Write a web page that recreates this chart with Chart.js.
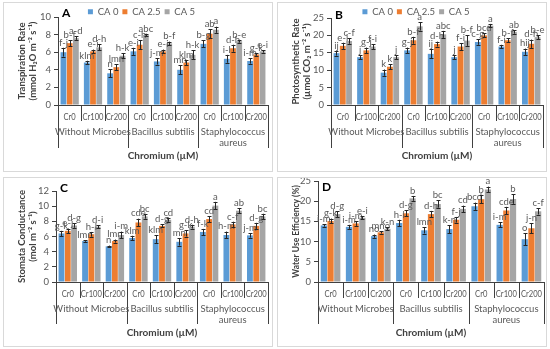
<!DOCTYPE html>
<html>
<head>
<meta charset="utf-8">
<script src="https://cdn.jsdelivr.net/npm/chart.js@4.4.0/dist/chart.umd.min.js"></script>
<style>
  body { margin: 0; background: #fff; width: 550px; height: 349px; position: relative; overflow: hidden; }
  .panel { position: absolute; width: 270px; height: 170px; border: 1px solid #d9d9d9; box-sizing: border-box; background: #fff; }
  canvas { position: absolute; left: 0; top: 0; }
</style>
</head>
<body>
<div class="panel" style="left:3px;top:2px"><canvas id="chartA" width="268" height="168"></canvas></div>
<div class="panel" style="left:277px;top:2px"><canvas id="chartB" width="268" height="168"></canvas></div>
<div class="panel" style="left:3px;top:177px"><canvas id="chartC" width="268" height="168"></canvas></div>
<div class="panel" style="left:277px;top:177px"><canvas id="chartD" width="268" height="168"></canvas></div>
<script>
const categories = ['Cr0', 'Cr100', 'Cr200', 'Cr0', 'Cr100', 'Cr200', 'Cr0', 'Cr100', 'Cr200'];
const groups = [['Without Microbes'], ['Bacillus subtilis'], ['Staphylococcus', 'aureus']];
const seriesNames = ['CA 0', 'CA 2.5', 'CA 5'];
const colors = ['#5B9BD5', '#ED7D31', '#A5A5A5'];

// A - transpiration rate
const trCA0 = [6.0, 4.83, 3.6, 6.1, 4.95, 4.0, 6.95, 5.25, 5.0];
const trCA25 = [7.03, 6.1, 4.3, 6.85, 6.1, 4.83, 8.1, 6.45, 5.75];
const trCA5 = [7.6, 6.55, 5.6, 7.95, 7.0, 5.7, 8.55, 7.25, 6.1];
const trErr0 = [0.5, 0.2, 0.45, 0.4, 0.35, 0.5, 0.4, 0.45, 0.3];
const trErr25 = [0.35, 0.2, 0.35, 0.5, 0.2, 0.3, 0.5, 0.4, 0.15];
const trErr5 = [0.2, 0.35, 0.3, 0.15, 0.2, 0.5, 0.35, 0.15, 0.15];
const trLet0 = ['f-j', 'klm', 'n', 'e-i', 'j-m', 'mn', 'b-g', 'i-l', 'i-m'];
const trLet25 = ['b-f', 'e-i', 'lmn', 'c-h', 'e-i', 'klm', 'ab', 'd-h', 'g-k'];
const trLet5 = ['a-d', 'd-h', 'h-k', 'abc', 'b-f', 'h-k', 'a', 'b-e', 'e-i'];

// B - photosynthetic rate
const psCA0 = [14.9, 13.75, 9.3, 15.7, 14.7, 13.75, 18.1, 16.8, 15.3];
const psCA25 = [17.0, 15.7, 11.0, 18.6, 17.5, 16.8, 20.0, 18.6, 17.6];
const psCA5 = [18.4, 16.8, 13.75, 22.6, 20.3, 18.5, 22.8, 21.0, 19.5];
const psErr0 = [0.7, 0.6, 0.9, 0.8, 1.3, 0.6, 0.8, 0.5, 0.9];
const psErr25 = [0.9, 0.8, 0.7, 1.0, 0.7, 1.0, 0.6, 0.6, 1.2];
const psErr5 = [0.8, 0.7, 0.6, 1.2, 1.0, 1.5, 0.5, 0.5, 0.6];
const psLet0 = ['ij', 'j', 'k', 'g-j', 'ij', 'j', 'c-g', 'f-i', 'hij'];
const psLet25 = ['e-i', 'g-j', 'k', 'b-f', 'd-h', 'f-i', 'bcd', 'b-f', 'd-h'];
const psLet5 = ['c-f', 'f-i', 'j', 'a', 'abc', 'b-f', 'a', 'ab', 'b-e'];

// C - stomata conductance
const scCA0 = [6.4, 5.4, 4.7, 5.8, 5.65, 5.3, 6.6, 6.2, 6.15];
const scCA25 = [6.75, 6.3, 5.4, 7.85, 7.4, 6.4, 8.3, 7.6, 7.4];
const scCA5 = [7.45, 7.3, 6.2, 8.65, 8.2, 7.3, 10.07, 9.4, 8.65];
const scErr0 = [0.35, 0.1, 0.1, 0.3, 0.5, 0.5, 0.4, 0.45, 0.3];
const scErr25 = [0.3, 0.3, 0.2, 0.5, 0.2, 0.4, 0.4, 0.35, 0.4];
const scErr5 = [0.3, 0.2, 0.45, 0.3, 0.25, 0.25, 0.5, 0.35, 0.35];
const scLet0 = ['g-k', 'lmn', 'n', 'klm', 'klm', 'mn', 'f-k', 'h-m', 'j-m'];
const scLet25 = ['e-j', 'h-l', 'lmn', 'cde', 'd-g', 'g-k', 'cd', 'c-f', 'd-g'];
const scLet5 = ['d-g', 'd-i', 'i-m', 'bc', 'cd', 'd-h', 'a', 'ab', 'bc'];

// D - water use efficiency
const weCA0 = [14.0, 13.65, 11.35, 14.6, 12.8, 13.1, 18.75, 14.15, 10.6];
const weCA25 = [15.1, 14.5, 12.3, 17.0, 16.8, 15.4, 20.5, 17.7, 13.3];
const weCA5 = [16.8, 15.9, 13.15, 20.7, 19.3, 18.1, 22.9, 20.55, 17.5];
const weErr0 = [0.3, 0.5, 0.4, 0.8, 0.8, 1.0, 0.9, 0.6, 1.5];
const weErr25 = [0.6, 0.6, 0.3, 0.7, 0.8, 0.7, 1.0, 0.9, 1.2];
const weErr5 = [0.7, 0.4, 0.4, 0.6, 0.9, 0.8, 0.7, 1.2, 0.8];
const weLet0 = ['i-m', 'i-m', 'no', 'h-l', 'lmn', 'k-n', 'bcd', 'i-m', 'o'];
const weLet25 = ['g-k', 'i-m', 'mno', 'd-g', 'd-h', 'f-j', 'b', 'cde', 'j-n'];
const weLet5 = ['d-g', 'e-i', 'k-n', 'b', 'bc', 'cd', 'a', 'b', 'c-f'];

const FONT = "Lato, 'Liberation Sans', sans-serif";
Chart.defaults.font.family = FONT;

const legendFit = {
  id: 'legendFit',
  beforeInit(chart, args, opts) {
    if (!chart.legend) return;
    const fit = chart.legend.fit;
    chart.legend.fit = function () {
      fit.bind(chart.legend)();
      this.height = opts.height || this.height;
    };
  }
};

const decor = {
  id: 'decor',
  afterDatasetsDraw(chart) {
    const { ctx, scales: { y } } = chart;
    ctx.save();
    chart.data.datasets.forEach((ds, di) => {
      chart.getDatasetMeta(di).data.forEach((bar, i) => {
        const v = ds.data[i], e = ds.err[i];
        const yt = y.getPixelForValue(v + e), yb = y.getPixelForValue(v - e);
        const bx = Math.round(bar.x) + 0.5;
        ctx.strokeStyle = '#262626';
        ctx.lineWidth = 1;
        ctx.beginPath();
        ctx.moveTo(bx, yt); ctx.lineTo(bx, yb);
        ctx.moveTo(bx - 2, Math.round(yt) + 0.5); ctx.lineTo(bx + 2, Math.round(yt) + 0.5);
        ctx.moveTo(bx - 2, Math.round(yb) + 0.5); ctx.lineTo(bx + 2, Math.round(yb) + 0.5);
        ctx.stroke();
        ctx.fillStyle = '#595959';
        ctx.font = '9.5px ' + FONT;
        ctx.textAlign = 'center';
        ctx.textBaseline = 'bottom';
        ctx.fillText(ds.letters[i], bar.x, yt - 0.5);
      });
    });
    ctx.restore();
  },
  afterDraw(chart, args, opts) {
    const { ctx, chartArea, scales: { x } } = chart;
    const step = x.getPixelForValue(1) - x.getPixelForValue(0);
    const b = chartArea.bottom;
    ctx.save();
    ctx.strokeStyle = '#404040';
    ctx.lineWidth = 1;
    ctx.beginPath();
    for (let i = 0; i <= categories.length; i++) {
      const px = Math.round(x.getPixelForValue(0) - step / 2 + i * step) + 0.5;
      const len = i % 3 === 0 ? opts.longLen : 16;
      ctx.moveTo(px, b); ctx.lineTo(px, b + len);
    }
    ctx.stroke();
    ctx.fillStyle = '#595959';
    ctx.font = '9.5px ' + FONT;
    ctx.textAlign = 'center';
    ctx.textBaseline = 'middle';
    // category labels, squeezed a little to fit like the narrow original font
    categories.forEach((c, i) => {
      ctx.save();
      ctx.translate(x.getPixelForValue(i), b + 12);
      ctx.scale(0.8, 1);
      ctx.fillText(c, 0, 0);
      ctx.restore();
    });
    groups.forEach((g, gi) => {
      const cx = x.getPixelForValue(gi * 3 + 1);
      g.forEach((line, li) => ctx.fillText(line, cx, b + 27 + li * 11));
    });
    ctx.fillStyle = '#000';
    ctx.font = 'bold 12px ' + FONT;
    ctx.textAlign = 'left';
    ctx.fillText(opts.letter, chartArea.left + 4, chartArea.top + opts.letterDy);
    ctx.restore();
  }
};

function makePanel(id, p) {
  const vals = [p.s0, p.s1, p.s2];
  const errs = [p.e0, p.e1, p.e2];
  const lets = [p.l0, p.l1, p.l2];
  new Chart(document.getElementById(id), {
    type: 'bar',
    data: {
      labels: categories,
      datasets: seriesNames.map((n, k) => ({
        label: n,
        data: vals[k],
        err: errs[k],
        letters: lets[k],
        backgroundColor: colors[k],
        borderWidth: 0,
        categoryPercentage: 0.8,
        barPercentage: 0.93
      }))
    },
    options: {
      responsive: false,
      animation: false,
      devicePixelRatio: 1,
      layout: { padding: { left: p.padL, right: p.padR, top: p.padT, bottom: 0 } },
      plugins: {
        legend: {
          display: p.legend,
          position: 'top',
          labels: { boxWidth: 5, boxHeight: 5, padding: 4, color: '#595959', font: { size: 9.5 } }
        },
        tooltip: { enabled: false },
        legendFit: { height: p.legendH },
        decor: { letter: p.letter, longLen: p.longLen, letterDy: p.letterDy }
      },
      scales: {
        x: {
          ticks: { display: false },
          grid: { display: false },
          border: { display: true, color: '#404040' },
          title: {
            display: true, text: 'Chromium (µM)', color: '#404040',
            font: { size: 10, weight: 'bold' }, padding: { top: 0, bottom: p.xTitlePad }
          },
          afterFit(s) { s.height = p.xh; s.paddingLeft = 0; s.paddingRight = 0; }
        },
        y: {
          min: 0, max: p.max,
          ticks: { stepSize: p.step, color: '#595959', font: { size: 9.5 }, padding: 3 },
          grid: { drawOnChartArea: false, drawTicks: true, tickLength: 4, color: '#404040' },
          border: { color: '#404040' },
          title: {
            display: true, text: p.yTitle, color: '#404040',
            font: { size: p.yTitleSize, weight: 'bold' }, padding: { top: p.yTitlePad, bottom: 0 }
          },
          afterFit(s) { s.width = p.yw; s.paddingTop = 0; s.paddingBottom = 0; }
        }
      }
    },
    plugins: [legendFit, decor]
  });
}

makePanel('chartA', {
  letter: 'A', s0: trCA0, s1: trCA25, s2: trCA5, e0: trErr0, e1: trErr25, e2: trErr5,
  l0: trLet0, l1: trLet25, l2: trLet5, max: 10, step: 2,
  yTitle: ['Transpiration Rate', '(mmol H₂O m⁻² s⁻¹)'], yTitleSize: 9.5,
  legend: true, legendH: 14, padL: 11, padR: 4, padT: 0, yw: 43, xh: 66,
  yTitlePad: 1, xTitlePad: 9, longLen: 43, letterDy: -4
});
makePanel('chartB', {
  letter: 'B', s0: psCA0, s1: psCA25, s2: psCA5, e0: psErr0, e1: psErr25, e2: psErr5,
  l0: psLet0, l1: psLet25, l2: psLet5, max: 25, step: 5,
  yTitle: ['Photosynthetic Rate', '(µmol CO₂ m⁻² s⁻¹)'], yTitleSize: 9.5,
  legend: true, legendH: 15, padL: 11, padR: 3, padT: 0, yw: 42, xh: 66,
  yTitlePad: 1, xTitlePad: 9, longLen: 43, letterDy: -3
});
makePanel('chartC', {
  letter: 'C', s0: scCA0, s1: scCA25, s2: scCA5, e0: scErr0, e1: scErr25, e2: scErr5,
  l0: scLet0, l1: scLet25, l2: scLet5, max: 12, step: 2,
  yTitle: ['Stomata Conductance', '(mol m⁻² s⁻¹)'], yTitleSize: 9.5,
  legend: false, legendH: 0, padL: 0, padR: 4, padT: 13, yw: 52, xh: 64,
  yTitlePad: 12, xTitlePad: 7, longLen: 42, letterDy: -3
});
makePanel('chartD', {
  letter: 'D', s0: weCA0, s1: weCA25, s2: weCA5, e0: weErr0, e1: weErr25, e2: weErr5,
  l0: weLet0, l1: weLet25, l2: weLet5, max: 25, step: 5,
  yTitle: 'Water Use Efficiency (%)', yTitleSize: 8.5,
  legend: false, legendH: 0, padL: 0, padR: 2, padT: 3, yw: 40, xh: 64,
  yTitlePad: 13, xTitlePad: 7, longLen: 42, letterDy: 6
});
</script>
</body>
</html>
